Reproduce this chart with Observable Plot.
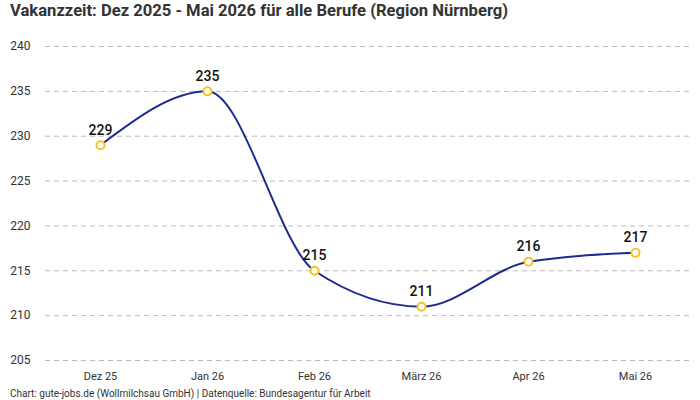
<!DOCTYPE html>
<html>
<head>
<meta charset="utf-8">
<script src="https://cdn.jsdelivr.net/npm/d3@7"></script>
<script src="https://cdn.jsdelivr.net/npm/@observablehq/plot@0.6"></script>
<style>
  body { margin: 0; background: #fff; font-family: Roboto, "Noto Sans", sans-serif; }
  #title { font-size: 16.6px; font-weight: 700; color: #333; padding: 1px 0 0 10px; height: 27px; line-height: 20px; }
  #caption { font-size: 10px; color: #333; padding: 2px 0 0 10px; line-height: 16px; }
  svg { display: block; }
</style>
</head>
<body>
<div id="title">Vakanzzeit: Dez 2025 - Mai 2026 für alle Berufe (Region Nürnberg)</div>
<div id="chart"></div>
<div id="caption">Chart: gute-jobs.de (Wollmilchsau GmbH) | Datenquelle: Bundesagentur für Arbeit</div>
<script>
// Monate und Vakanzzeit in Tagen
const months = ["Dez 25", "Jan 26", "Feb 26", "März 26", "Apr 26", "Mai 26"];
const days = [229, 235, 215, 211, 216, 217];
const yTicks = [205, 210, 215, 220, 225, 230, 235, 240];

const data = months.map((m, i) => ({month: m, value: days[i]}));

const chart = Plot.plot({
  width: 700,
  height: 356,
  marginTop: 18,
  marginBottom: 24,
  marginLeft: 45,
  marginRight: 10,
  style: {fontFamily: "Roboto, 'Noto Sans', sans-serif", fontSize: "11px", color: "#333"},
  x: {type: "point", domain: months, padding: 0.5, label: null},
  y: {domain: [205, 240], ticks: yTicks, label: null},
  marks: [
    Plot.gridY(yTicks, {stroke: "#bbb", strokeOpacity: 1, strokeDasharray: "5,4"}),
    Plot.axisY(yTicks, {tickSize: 0, tickPadding: 15, fontSize: 12, label: null}),
    Plot.axisX({tickSize: 0, tickPadding: 12, fontSize: 11, label: null}),
    Plot.line(data, {x: "month", y: "value", curve: "monotone-x", stroke: "#1c2b8f", strokeWidth: 2}),
    Plot.dot(data, {x: "month", y: "value", r: 4, fill: "white", stroke: "#f7c325", strokeWidth: 2}),
    Plot.text(data, {x: "month", y: "value", text: d => String(d.value), dy: -15, fontSize: 14, fontWeight: 500, fill: "#111"})
  ]
});
document.getElementById("chart").appendChild(chart);
</script>
</body>
</html>
